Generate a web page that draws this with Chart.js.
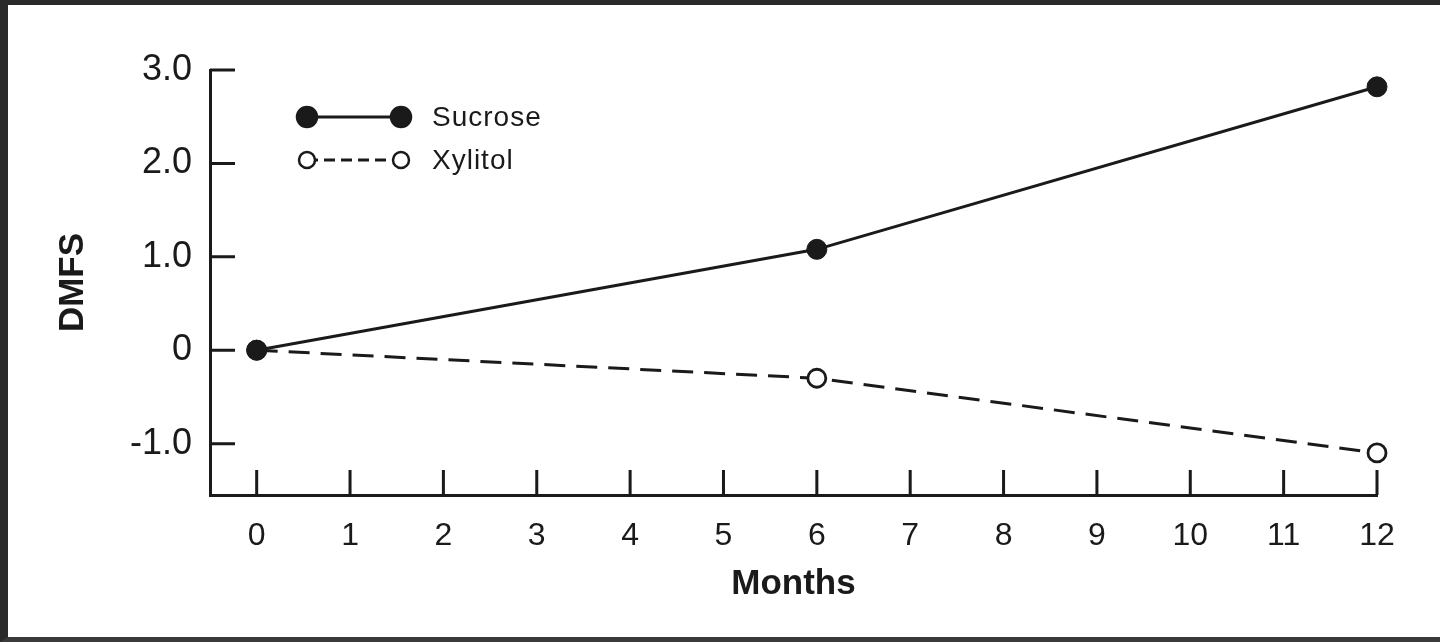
<!DOCTYPE html>
<html>
<head>
<meta charset="utf-8">
<script src="https://cdn.jsdelivr.net/npm/chart.js@4"></script>
<style>
  html, body { margin: 0; padding: 0; background: #fff; }
  #wrap { position: relative; width: 1440px; height: 642px; overflow: hidden; }
  #frame {
    position: absolute; left: 0; top: 0; width: 1440px; height: 642px;
    box-sizing: border-box; pointer-events: none;
    border-top: 5px solid #2a2a2a; border-left: 8px solid #2a2a2a; border-bottom: 5px solid #3a3a3a;
  }
  canvas { position: absolute; left: 0; top: 0; }
</style>
</head>
<body>
<div id="wrap">
  <canvas id="chart" width="1440" height="642"></canvas>
  <div id="frame"></div>
</div>
<script>
const months = [0, 6, 12];
const sucrose = [0, 1.08, 2.82];
const xylitol = [0, -0.3, -1.1];
const xTicks = [0, 1, 2, 3, 4, 5, 6, 7, 8, 9, 10, 11, 12];
const yTicks = [-1, 0, 1, 2, 3];
const yTickLabels = ["-1.0", "0", "1.0", "2.0", "3.0"];

const ink = "#1a1a1a";
const fontFamily = "'Liberation Sans', Arial, Helvetica, sans-serif";

// ticks drawn inward from the axis lines
const innerTicks = {
  id: "innerTicks",
  afterDraw(chart) {
    const { ctx, chartArea, scales } = chart;
    ctx.save();
    ctx.strokeStyle = ink;
    ctx.lineWidth = 3;
    ctx.beginPath();
    yTicks.forEach((v) => {
      const y = scales.y.getPixelForValue(v);
      ctx.moveTo(chartArea.left, y);
      ctx.lineTo(chartArea.left + 25, y);
    });
    xTicks.forEach((v) => {
      const x = scales.x.getPixelForValue(v);
      ctx.moveTo(x, chartArea.bottom);
      ctx.lineTo(x, chartArea.bottom - 25);
    });
    ctx.stroke();
    ctx.restore();
  },
};

// legend: marker - line - marker, then label
const sampleLegend = {
  id: "sampleLegend",
  afterDraw(chart) {
    const { ctx } = chart;
    const rows = [{ y: 117 }, { y: 160 }];
    ctx.save();
    chart.data.datasets.forEach((ds, i) => {
      const y = rows[i].y;
      const x0 = 307, x1 = 401;
      ctx.strokeStyle = ink;
      ctx.lineWidth = ds.borderWidth;
      ctx.setLineDash(i === 0 ? [] : [11, 6]);
      ctx.beginPath();
      ctx.moveTo(x0, y);
      ctx.lineTo(x1, y);
      ctx.stroke();
      ctx.setLineDash([]);
      [x0, x1].forEach((x) => {
        ctx.beginPath();
        ctx.arc(x, y, i === 0 ? 10 : 8, 0, Math.PI * 2);
        ctx.fillStyle = ds.pointBackgroundColor;
        ctx.fill();
        ctx.lineWidth = 2.5;
        ctx.stroke();
      });
      ctx.fillStyle = ink;
      ctx.font = "28px " + fontFamily;
      ctx.letterSpacing = "1px";
      ctx.textBaseline = "middle";
      ctx.textAlign = "left";
      ctx.fillText(ds.label, 432, y + 1);
    });
    ctx.restore();
  },
};

new Chart(document.getElementById("chart"), {
  type: "line",
  data: {
    datasets: [
      {
        label: "Sucrose",
        data: months.map((m, i) => ({ x: m, y: sucrose[i] })),
        borderColor: ink,
        borderWidth: 3,
        pointRadius: 10,
        pointBackgroundColor: ink,
        pointBorderColor: ink,
        pointBorderWidth: 1,
        tension: 0,
        clip: false,
      },
      {
        label: "Xylitol",
        data: months.map((m, i) => ({ x: m, y: xylitol[i] })),
        borderColor: ink,
        borderWidth: 3,
        borderDash: [21, 11],
        pointRadius: 9,
        pointBackgroundColor: "#ffffff",
        pointBorderColor: ink,
        pointBorderWidth: 2.8,
        tension: 0,
        clip: false,
      },
    ],
  },
  options: {
    responsive: false,
    devicePixelRatio: 1,
    animation: false,
    layout: { padding: { top: 70, right: 63, left: 0, bottom: 0 } },
    plugins: { legend: { display: false }, tooltip: { enabled: false } },
    scales: {
      x: {
        type: "linear",
        min: -0.5,
        max: 12,
        afterBuildTicks: (scale) => {
          scale.ticks = xTicks.map((v) => ({ value: v }));
        },
        afterFit: (scale) => {
          scale.height = 147;
        },
        grid: { display: false, drawTicks: false },
        border: { display: true, color: ink, width: 3 },
        ticks: {
          color: ink,
          font: { family: fontFamily, size: 32 },
          padding: 22,
          maxRotation: 0,
          autoSkip: false,
        },
        title: {
          display: true,
          text: "Months",
          color: ink,
          font: { family: fontFamily, size: 35, weight: "bold" },
          padding: { top: 0, bottom: 37 },
        },
      },
      y: {
        type: "linear",
        min: -1.55,
        max: 3,
        afterBuildTicks: (scale) => {
          scale.ticks = yTicks.map((v) => ({ value: v }));
        },
        afterFit: (scale) => {
          scale.width = 210;
        },
        grid: { display: false, drawTicks: false },
        border: { display: true, color: ink, width: 3 },
        ticks: {
          color: ink,
          font: { family: fontFamily, size: 36 },
          padding: 18,
          callback: (v) => yTickLabels[yTicks.indexOf(v)],
        },
        title: {
          display: true,
          text: "DMFS",
          color: ink,
          font: { family: fontFamily, size: 35, weight: "bold" },
          padding: { top: 52, bottom: 0 },
        },
      },
    },
  },
  plugins: [innerTicks, sampleLegend],
});
</script>
</body>
</html>
